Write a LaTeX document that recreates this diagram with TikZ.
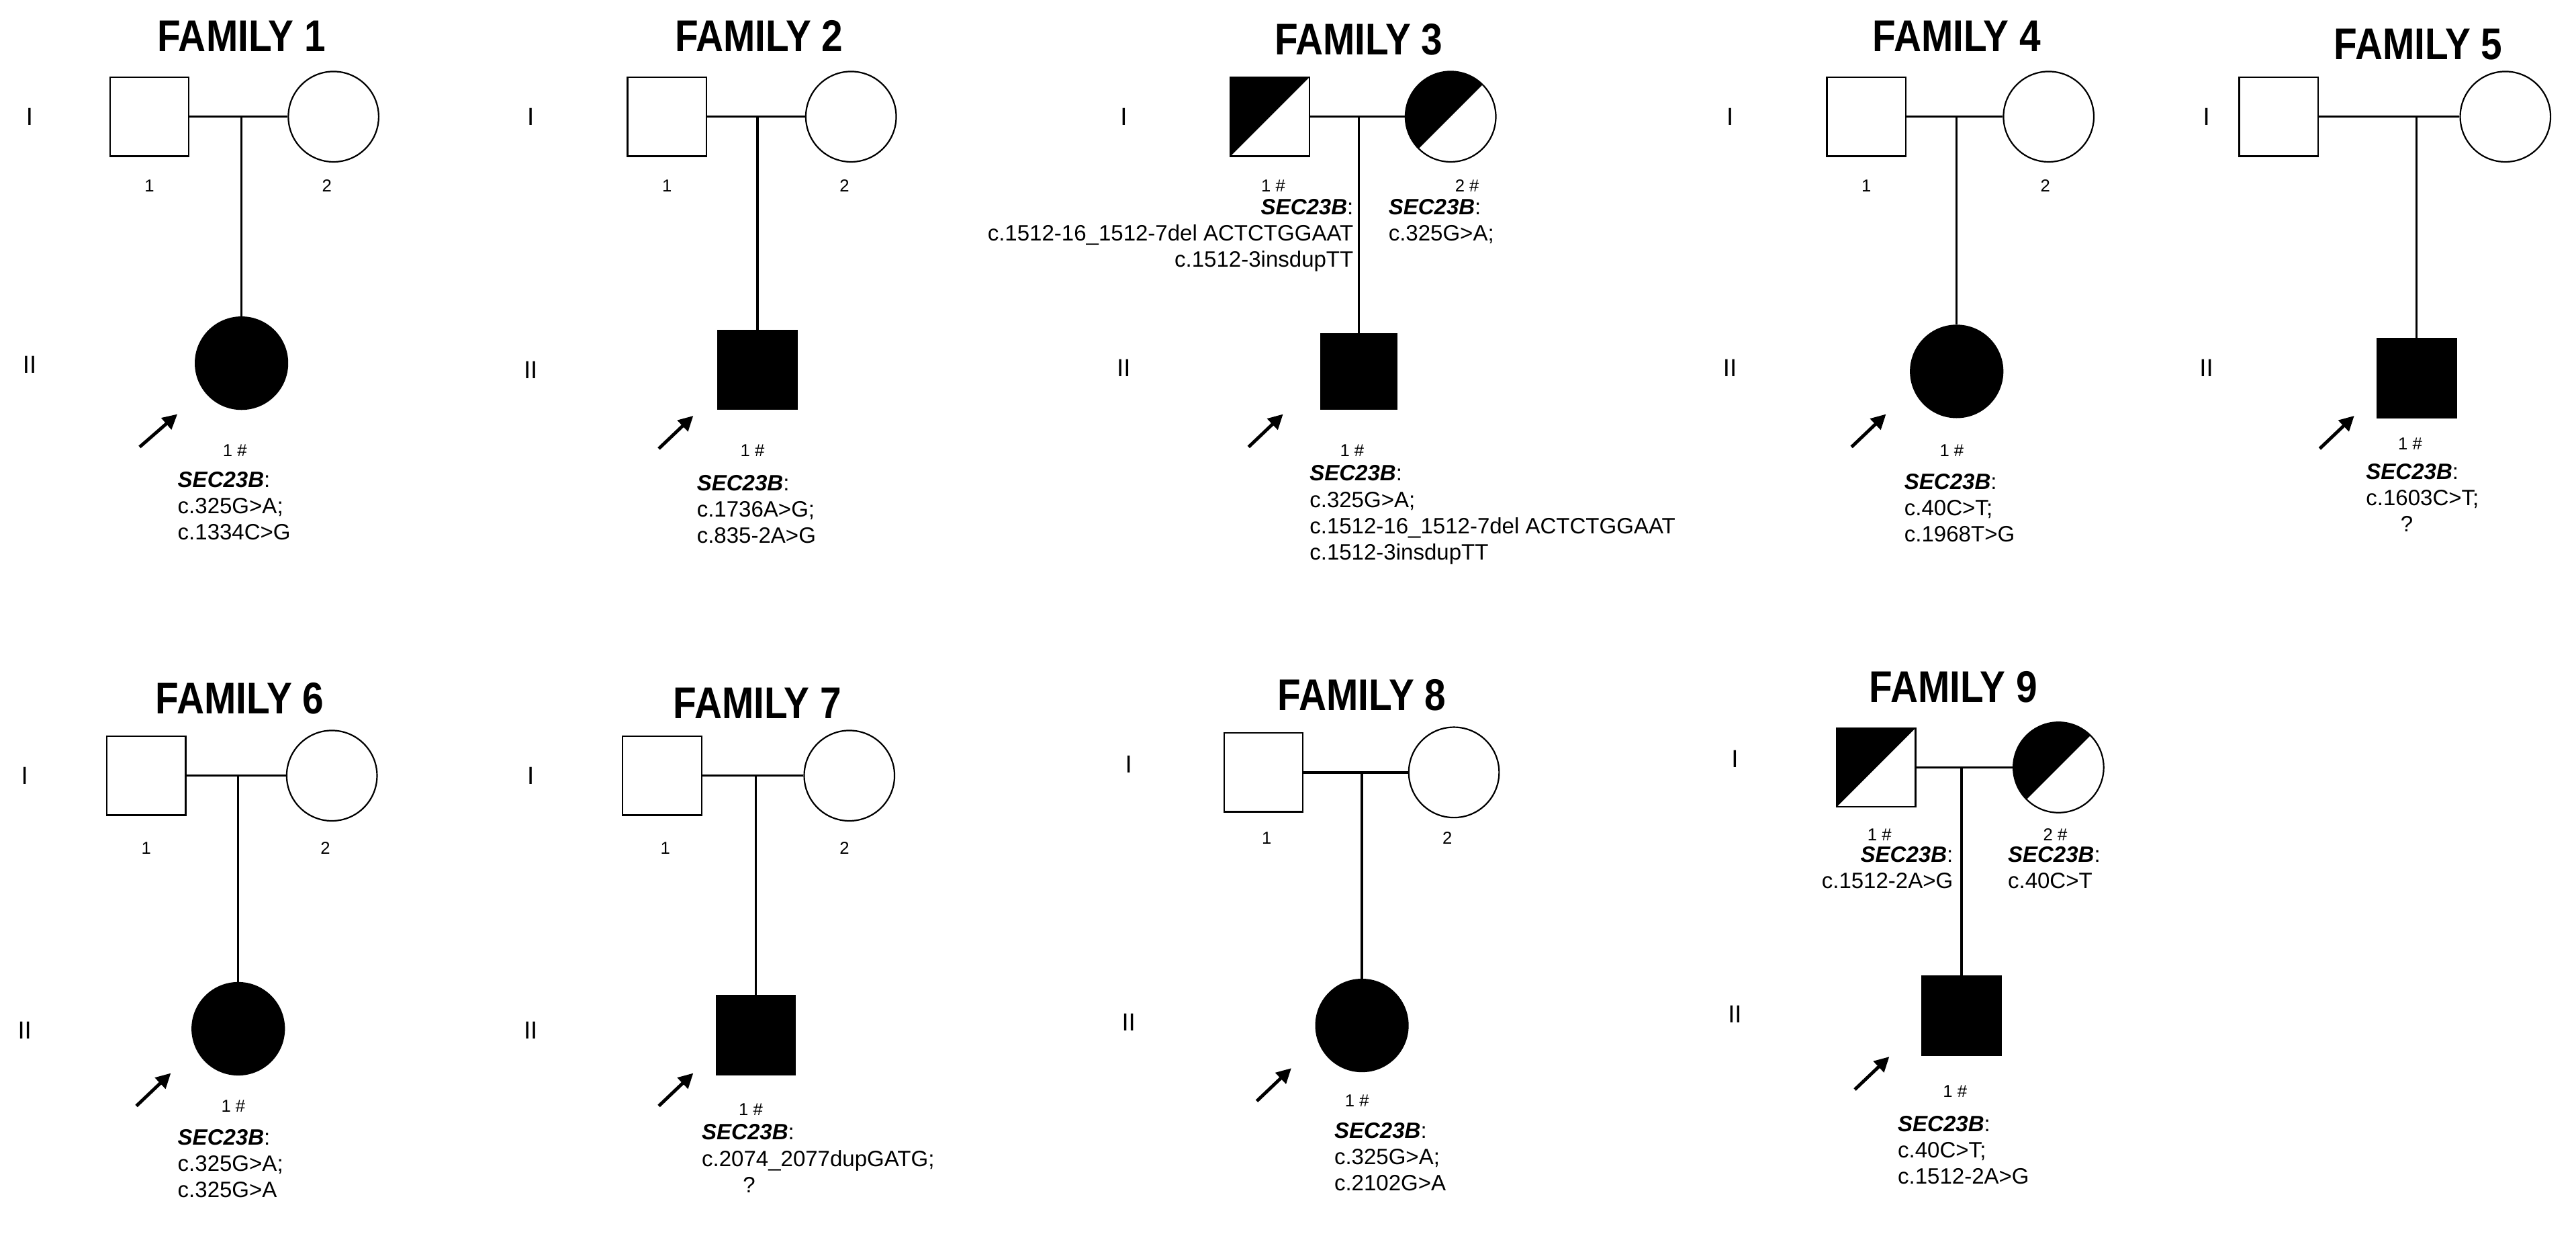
\documentclass[tikz,border=0pt]{standalone}
\usepackage{fontspec}
\setmainfont{Liberation Sans}
\newfontfamily\tfont{Liberation Sans}[FakeStretch=0.86,BoldFeatures={FakeStretch=0.86}]
\usetikzlibrary{arrows.meta}
\begin{document}
\begin{tikzpicture}[x=1pt,y=-1pt,
 male/.style={draw,line width=0.9,minimum size=48,inner sep=0,fill=white},
 female/.style={draw,circle,line width=0.9,minimum size=55,inner sep=0,fill=white},
 aff/.style={fill=black},
 half/.style={path picture={\fill[black] (path picture bounding box.south west)--(path picture bounding box.north west)--(path picture bounding box.north east)--cycle;}},
 mline/.style={line width=1.4},
 title/.style={font=\tfont\bfseries\fontsize{27}{29}\selectfont},
 gen/.style={font=\fontsize{15}{16}\selectfont},
 num/.style={font=\fontsize{10.5}{12}\selectfont},
 txt/.style={font=\fontsize{13.5}{16}\selectfont,align=left,inner sep=0,anchor=north west},
 txtr/.style={font=\fontsize{13.5}{16}\selectfont,align=right,inner sep=0,anchor=north east},
 prob/.style={-{Triangle[length=9,width=9]},line width=2}]
\useasboundingbox (0,0) rectangle (1568,752);
\def\gn{\textbf{\textit{SEC23B}}:}
% ---------- FAMILY 1
\node[title] (t1) at (147,22) {FAMILY 1};
\node[gen] (g1a) at (18,71) {I}; \node[gen] (g1b) at (18,222) {II};
\node[male] (f1) at (91,71) {}; \node[female] (m1) at (203,71) {};
\coordinate (c1) at (147,71);
\node[female,aff,minimum size=56] (k1) at (147,221) {};
\draw[mline] (f1) -- (m1); \draw[mline] (c1) -- (k1);
\node[num] (n1a) at (91,113) {1}; \node[num] (n1b) at (199,113) {2};
\coordinate (a1) at (85,272); \coordinate (b1) at (108,252); \draw[prob] (a1) -- (b1);
\node[num] (p1) at (143,274) {1 \#};
\node[txt] (x1) at (108,287) {\gn\\c.325G>A;\\c.1334C>G};
% ---------- FAMILY 2
\node[title] (t2) at (462,22) {FAMILY 2};
\node[gen] (g2a) at (323,71) {I}; \node[gen] (g2b) at (323,225) {II};
\node[male] (f2) at (406,71) {}; \node[female] (m2) at (518,71) {};
\coordinate (c2) at (461,71);
\node[male,aff] (k2) at (461,225) {};
\draw[mline] (f2) -- (m2); \draw[mline] (c2) -- (k2);
\node[num] (n2a) at (406,113) {1}; \node[num] (n2b) at (514,113) {2};
\coordinate (a2) at (401,273); \coordinate (b2) at (422,253); \draw[prob] (a2) -- (b2);
\node[num] (p2) at (458,274) {1 \#};
\node[txt] (x2) at (424,289) {\gn\\c.1736A>G;\\c.835-2A>G};
% ---------- FAMILY 3
\node[title] (t3) at (827,24) {FAMILY 3};
\node[gen] (g3a) at (684,71) {I}; \node[gen] (g3b) at (684,224) {II};
\node[male,half] (f3) at (773,71) {}; \node[female,half] (m3) at (883,71) {};
\coordinate (c3) at (827,71);
\node[male,aff,minimum size=46] (k3) at (827,226) {};
\draw[mline] (f3) -- (m3); \draw[mline] (c3) -- (k3);
\node[num] (n3a) at (775,113) {1 \#}; \node[num] (n3b) at (893,113) {2 \#};
\node[txtr] (x3a) at (824,121) {\gn\\c.1512-16\_1512-7del ACTCTGGAAT\\c.1512-3insdupTT};
\node[txt] (x3b) at (845,121) {\gn\\c.325G>A;};
\coordinate (a3) at (760,272); \coordinate (b3) at (781,252); \draw[prob] (a3) -- (b3);
\node[num] (p3) at (823,274) {1 \#};
\node[txt] (x3) at (797,283) {\gn\\c.325G>A;\\c.1512-16\_1512-7del ACTCTGGAAT\\c.1512-3insdupTT};
% ---------- FAMILY 4
\node[title] (t4) at (1191,22) {FAMILY 4};
\node[gen] (g4a) at (1053,71) {I}; \node[gen] (g4b) at (1053,224) {II};
\node[male] (f4) at (1136,71) {}; \node[female] (m4) at (1247,71) {};
\coordinate (c4) at (1191,71);
\node[female,aff,minimum size=56] (k4) at (1191,226) {};
\draw[mline] (f4) -- (m4); \draw[mline] (c4) -- (k4);
\node[num] (n4a) at (1136,113) {1}; \node[num] (n4b) at (1245,113) {2};
\coordinate (a4) at (1127,272); \coordinate (b4) at (1148,252); \draw[prob] (a4) -- (b4);
\node[num] (p4) at (1188,274) {1 \#};
\node[txt] (x4) at (1159,288) {\gn\\c.40C>T;\\c.1968T>G};
% ---------- FAMILY 5
\node[title] (t5) at (1472,27) {FAMILY 5};
\node[gen] (g5a) at (1343,71) {I}; \node[gen] (g5b) at (1343,224) {II};
\node[male] (f5) at (1387,71) {}; \node[female] (m5) at (1525,71) {};
\coordinate (c5) at (1471,71);
\node[male,aff] (k5) at (1471,230) {};
\draw[mline] (f5) -- (m5); \draw[mline] (c5) -- (k5);
\coordinate (a5) at (1412,273); \coordinate (b5) at (1433,253); \draw[prob] (a5) -- (b5);
\node[num] (p5) at (1467,270) {1 \#};
\node[txt] (x5) at (1440,282) {\gn\\c.1603C>T;\\\hspace*{21pt}?};
% ---------- FAMILY 6
\node[title] (t6) at (146,425) {FAMILY 6};
\node[gen] (g6a) at (15,472) {I}; \node[gen] (g6b) at (15,627) {II};
\node[male] (f6) at (89,472) {}; \node[female] (m6) at (202,472) {};
\coordinate (c6) at (145,472);
\node[female,aff,minimum size=56] (k6) at (145,626) {};
\draw[mline] (f6) -- (m6); \draw[mline] (c6) -- (k6);
\node[num] (n6a) at (89,516) {1}; \node[num] (n6b) at (198,516) {2};
\coordinate (a6) at (83,673); \coordinate (b6) at (104,653); \draw[prob] (a6) -- (b6);
\node[num] (p6) at (142,673) {1 \#};
\node[txt] (x6) at (108,687) {\gn\\c.325G>A;\\c.325G>A};
% ---------- FAMILY 7
\node[title] (t7) at (461,428) {FAMILY 7};
\node[gen] (g7a) at (323,472) {I}; \node[gen] (g7b) at (323,627) {II};
\node[male] (f7) at (403,472) {}; \node[female] (m7) at (517,472) {};
\coordinate (c7) at (460,472);
\node[male,aff] (k7) at (460,630) {};
\draw[mline] (f7) -- (m7); \draw[mline] (c7) -- (k7);
\node[num] (n7a) at (405,516) {1}; \node[num] (n7b) at (514,516) {2};
\coordinate (a7) at (401,673); \coordinate (b7) at (422,653); \draw[prob] (a7) -- (b7);
\node[num] (p7) at (457,675) {1 \#};
\node[txt] (x7) at (427,684) {\gn\\c.2074\_2077dupGATG;\\\hspace*{25pt}?};
% ---------- FAMILY 8
\node[title] (t8) at (829,423) {FAMILY 8};
\node[gen] (g8a) at (687,465) {I}; \node[gen] (g8b) at (687,622) {II};
\node[male] (f8) at (769,470) {}; \node[female] (m8) at (885,470) {};
\coordinate (c8) at (829,470);
\node[female,aff,minimum size=56] (k8) at (829,624) {};
\draw[mline] (f8) -- (m8); \draw[mline] (c8) -- (k8);
\node[num] (n8a) at (771,510) {1}; \node[num] (n8b) at (881,510) {2};
\coordinate (a8) at (765,670); \coordinate (b8) at (786,650); \draw[prob] (a8) -- (b8);
\node[num] (p8) at (826,670) {1 \#};
\node[txt] (x8) at (812,683) {\gn\\c.325G>A;\\c.2102G>A};
% ---------- FAMILY 9
\node[title] (t9) at (1189,418) {FAMILY 9};
\node[gen] (g9a) at (1056,462) {I}; \node[gen] (g9b) at (1056,617) {II};
\node[male,half] (f9) at (1142,467) {}; \node[female,half] (m9) at (1253,467) {};
\coordinate (c9) at (1194,467);
\node[male,aff] (k9) at (1194,618) {};
\draw[mline] (f9) -- (m9); \draw[mline] (c9) -- (k9);
\node[num] (n9a) at (1144,508) {1 \#}; \node[num] (n9b) at (1251,508) {2 \#};
\node[txtr] (x9a) at (1189,515) {\gn\\c.1512-2A>G};
\node[txt] (x9b) at (1222,515) {\gn\\c.40C>T};
\coordinate (a9) at (1129,663); \coordinate (b9) at (1150,643); \draw[prob] (a9) -- (b9);
\node[num] (p9) at (1190,664) {1 \#};
\node[txt] (x9) at (1155,679) {\gn\\c.40C>T;\\c.1512-2A>G};
\end{tikzpicture}
\end{document}
